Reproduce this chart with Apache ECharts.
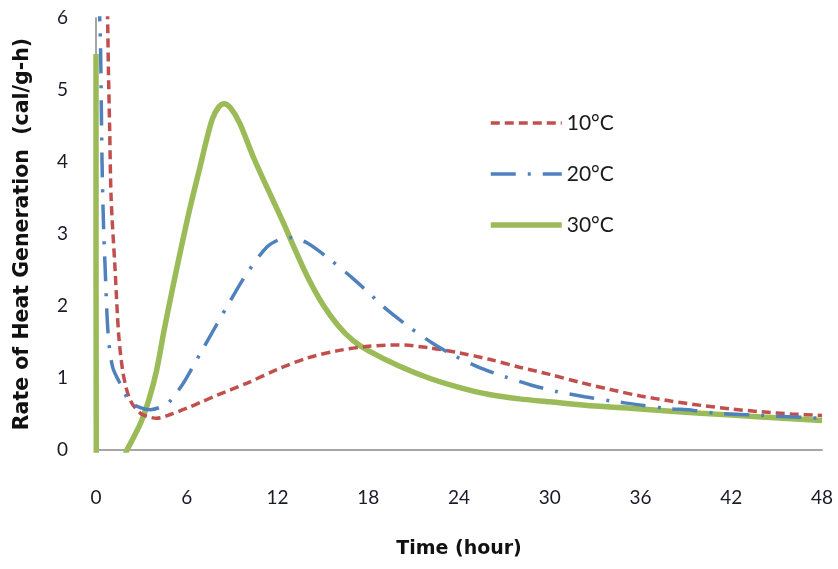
<!DOCTYPE html>
<html>
<head>
<meta charset="utf-8">
<script src="https://cdn.jsdelivr.net/npm/echarts@6/dist/echarts.min.js"></script>
<style>
html,body{margin:0;padding:0;background:#fff;}
#chart{width:838px;height:569px;}
</style>
</head>
<body>
<div id="chart"></div>
<script>
// Data: [time (hour), rate (cal/g-h)]
const seriesNames = ['10°C', '20°C', '30°C'];
const xTicks = [0, 6, 12, 18, 24, 30, 36, 42, 48];
const yTicks = [0, 1, 2, 3, 4, 5, 6];

const data10 = [
  [0.75, 6.3], [0.82, 5.3], [0.9, 4.5], [1.0, 3.5], [1.25, 2.55], [1.5, 1.6], [1.75, 1.12],
  [2.0, 0.86], [2.25, 0.7], [2.5, 0.61], [3.0, 0.5], [3.5, 0.46], [4.0, 0.44], [5.0, 0.5],
  [6.0, 0.58], [7.0, 0.67], [8.0, 0.76], [10, 0.93], [12, 1.12], [14, 1.28], [16, 1.38],
  [18, 1.44], [20, 1.46], [22, 1.42], [24, 1.35], [26, 1.26], [28, 1.15], [30, 1.05],
  [32, 0.94], [34, 0.84], [36, 0.75], [38, 0.68], [40, 0.62], [42, 0.57], [44, 0.53],
  [46, 0.5], [48, 0.48]
];

const data20 = [
  [0.2, 6.3], [0.3, 5.6], [0.4, 4.0], [0.5, 3.1], [0.6, 2.55], [0.8, 1.62], [1.1, 1.15],
  [1.6, 0.92], [2.2, 0.68], [2.8, 0.6], [3.6, 0.56], [4.2, 0.59], [4.8, 0.66], [5.35, 0.8],
  [5.9, 0.97], [7.0, 1.38], [8.0, 1.75], [8.9, 2.08], [10.0, 2.46], [11.3, 2.82], [12.2, 2.93],
  [13.0, 2.95], [14.0, 2.87], [15.5, 2.64], [17.0, 2.38], [18.3, 2.13], [19.0, 1.99],
  [20.5, 1.74], [22.2, 1.49], [23.6, 1.32], [25.4, 1.14], [27.0, 1.02], [28.8, 0.9],
  [30.5, 0.81], [32.3, 0.74], [34.1, 0.68], [35.8, 0.63], [37.6, 0.58], [39.5, 0.55],
  [41, 0.51], [44, 0.48], [48, 0.44]
];

const data30 = [
  [0, 5.5], [0.02, -0.3], [1.4, -0.3], [2.05, 0], [2.5, 0.18], [3.0, 0.4], [3.5, 0.7],
  [4.0, 1.1], [4.5, 1.66], [5.0, 2.18], [5.55, 2.73], [6.2, 3.35], [6.9, 3.95], [7.3, 4.3],
  [7.7, 4.6], [8.1, 4.76], [8.46, 4.81], [8.9, 4.75], [9.5, 4.54], [10.4, 4.07], [11.3, 3.65],
  [12.4, 3.15], [13.0, 2.86], [14.0, 2.4], [15.0, 2.02], [16.0, 1.73], [17.0, 1.52],
  [18.0, 1.38], [20.0, 1.17], [22.0, 1.0], [24.0, 0.87], [26.0, 0.77], [28.0, 0.71],
  [30, 0.67], [33, 0.61], [36, 0.57], [40, 0.51], [44, 0.46], [48, 0.41]
];

const chart = echarts.init(document.getElementById('chart'), null, {renderer: 'canvas'});
const font = 'Lato, "Open Sans", sans-serif';
const titleFont = '"DejaVu Sans", sans-serif';
const lineCommon = {type: 'line', symbol: 'none', showSymbol: false, smooth: 0.3, clip: true, animation: false};

chart.setOption({
  backgroundColor: '#ffffff',
  animation: false,
  grid: {left: 96, right: 16, top: 18, bottom: 119, containLabel: false},
  legend: {
    orient: 'vertical',
    left: 483,
    top: 107,
    itemWidth: 71,
    itemHeight: 14,
    itemGap: 29,
    itemStyle: {color: 'rgba(0,0,0,0)', borderWidth: 0, opacity: 0},
    lineStyle: {width: 'inherit', type: 'inherit'},
    textStyle: {fontFamily: font, fontSize: 21, color: '#1a1a1a', lineHeight: 22},
    data: seriesNames
  },
  xAxis: {
    type: 'value',
    min: 0, max: 48, interval: 6,
    name: 'Time (hour)',
    nameLocation: 'middle',
    nameGap: 90,
    nameTextStyle: {fontFamily: titleFont, fontSize: 19, fontWeight: 'bold', color: '#111'},
    axisLine: {show: true, lineStyle: {color: '#a6a6a6', width: 2}},
    axisTick: {show: false},
    splitLine: {show: false},
    axisLabel: {fontFamily: font, fontSize: 19, color: '#1a1a2a', margin: 38,
      formatter: v => xTicks.includes(v) ? String(v) : ''}
  },
  yAxis: {
    type: 'value',
    min: 0, max: 6, interval: 1,
    name: 'Rate of Heat Generation  (cal/g-h)',
    nameLocation: 'middle',
    nameRotate: 90,
    nameGap: 63,
    nameTextStyle: {fontFamily: titleFont, fontSize: 20.5, fontWeight: 'bold', color: '#111'},
    axisLine: {show: true, lineStyle: {color: '#a6a6a6', width: 2}},
    axisTick: {show: false},
    splitLine: {show: false},
    axisLabel: {fontFamily: font, fontSize: 19, color: '#1a1a2a', margin: 28,
      formatter: v => yTicks.includes(v) ? String(v) : ''}
  },
  series: [
    Object.assign({}, lineCommon, {
      name: seriesNames[0], data: data10, z: 3,
      color: '#C0504D',
      lineStyle: {color: '#C0504D', width: 3.5, type: [9, 5]}
    }),
    Object.assign({}, lineCommon, {
      name: seriesNames[1], data: data20, z: 4,
      color: '#4F81BD',
      lineStyle: {color: '#4F81BD', width: 3.5, type: [25, 12, 3, 12]}
    }),
    Object.assign({}, lineCommon, {
      name: seriesNames[2], data: data30, z: 2,
      color: '#9BBB59',
      lineStyle: {color: '#9BBB59', width: 5.5, type: 'solid'}
    })
  ]
});
</script>
</body>
</html>
